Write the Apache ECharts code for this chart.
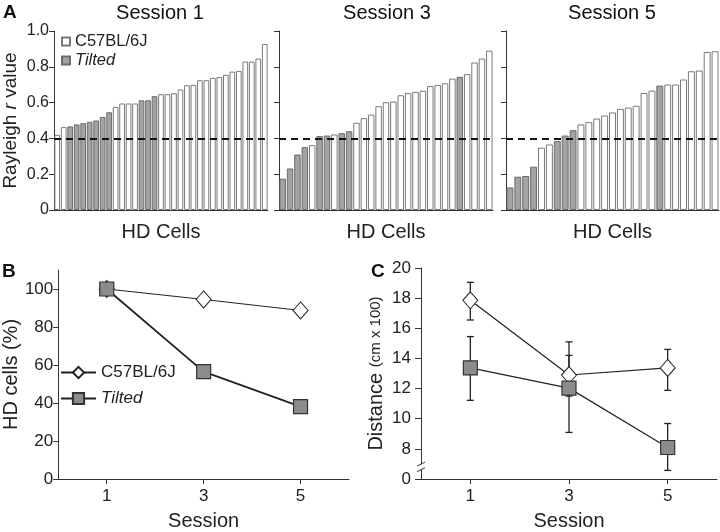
<!DOCTYPE html>
<html><head><meta charset="utf-8">
<script src="https://cdn.jsdelivr.net/npm/echarts@6/dist/echarts.min.js"></script>
<style>html,body{margin:0;padding:0;background:#fff}#c{width:720px;height:532px}</style>
</head><body><div id="c"></div>
<script>
// ---------- DATA ----------
const threshold = 0.4;
// Session 1 Rayleigh r (sorted) and group flag (1 = Tilted, 0 = C57BL/6J)
const s1Values = [0.42,0.463,0.467,0.478,0.485,0.493,0.50,0.52,0.546,0.576,0.595,0.595,0.595,0.613,0.613,0.636,0.647,0.647,0.652,0.673,0.697,0.699,0.725,0.725,0.738,0.743,0.755,0.773,0.777,0.829,0.829,0.846,0.927];
const s1Tilted = [0,0,1,1,1,1,1,1,1,0,0,0,0,1,1,1,0,0,0,0,0,0,0,0,0,0,0,0,0,0,0,0,0];
const s3Values = [0.175,0.232,0.31,0.351,0.362,0.413,0.416,0.422,0.429,0.44,0.487,0.513,0.533,0.58,0.602,0.606,0.641,0.654,0.66,0.666,0.693,0.699,0.708,0.734,0.744,0.759,0.824,0.846,0.89];
const s3Tilted = [1,1,1,1,0,1,1,0,1,1,0,0,0,0,0,0,0,0,0,0,0,0,0,0,1,0,0,0,0];
const s5Values = [0.126,0.186,0.19,0.242,0.348,0.366,0.385,0.416,0.446,0.478,0.491,0.511,0.528,0.545,0.565,0.572,0.582,0.654,0.667,0.695,0.701,0.701,0.729,0.775,0.779,0.883,0.887];
const s5Tilted = [1,1,1,1,0,0,1,1,1,0,0,0,0,0,0,0,0,0,0,1,0,0,0,0,0,0,0];

const sessions = [1,3,5];
const pctC57 = [100, 94.5, 88.7];
const pctTilted = [100, 56.5, 38.1];
const distC57 = [17.86, 12.9, 13.37];
const distC57Hi = [19.05, 14.2, 14.6];
const distC57Lo = [16.55, 11.5, 11.88];
const distTilted = [13.37, 12.03, 8.09];
const distTiltedHi = [15.45, 15.1, 9.68];
const distTiltedLo = [11.22, 9.09, 6.57];

const rTicks = [0,0.2,0.4,0.6,0.8,1.0];
const pctTicks = [0,20,40,60,80,100];
const distTickLabels = [0,8,10,12,14,16,18,20];
const sessionTicks = [1,3,5];
const distOffset = 6; // broken axis: values >= 8 shifted down by 6

// ---------- CHART ----------
const FONT = 'Liberation Sans, Arial, Helvetica, sans-serif';
const TXT = '#222';
const AX = '#333';
const chart = echarts.init(document.getElementById('c'), null, {renderer:'canvas'});
const tr = v => v - distOffset;
const distTickPos = distTickLabels.map(v => v === 0 ? 0 : tr(v));

const C57 = 'C57BL/6J', TIL = 'Tilted';
const whiteBar = {color:'#ffffff', borderColor:'#7a7a7a', borderWidth:1};
const grayBar = {color:'#a3a3a3', borderColor:'#6c6c6c', borderWidth:1};

const panels = [
  {vals:s1Values, flags:s1Tilted, grid:{left:54, top:31, width:214, height:179}, labels:true},
  {vals:s3Values, flags:s3Tilted, grid:{left:279, top:31, width:214, height:179}, labels:false},
  {vals:s5Values, flags:s5Tilted, grid:{left:506, top:31, width:213, height:179}, labels:false}
];

const grids = panels.map(p => p.grid).concat([
  {left:53, top:270, width:296, height:211},
  {left:421, top:268, width:296, height:213}
]);

const xAxes = [], yAxes = [], series = [];
panels.forEach((p, i) => {
  xAxes.push({type:'category', gridIndex:i, data:p.vals.map((v,k)=>String(k+1)), boundaryGap:true,
    axisTick:{show:false}, axisLabel:{show:false},
    axisLine:{lineStyle:{color:AX, width:1}},
    name:'HD Cells', nameLocation:'middle', nameGap:12,
    nameTextStyle:{fontFamily:FONT, fontSize:20, color:TXT}});
  yAxes.push({type:'value', gridIndex:i, min:0, max:1, interval:0.2, splitLine:{show:false},
    axisLine:{show:true, lineStyle:{color:AX, width:1}},
    axisTick:{show:true, length:5, lineStyle:{color:AX}},
    axisLabel:{show:p.labels, margin:5, fontFamily:FONT, fontSize:16, color:TXT,
      formatter:v => v === 0 ? '0' : v.toFixed(1)},
    name: p.labels ? 'Rayleigh {i|r} value' : '', nameLocation:'middle', nameRotate:90, nameGap:34,
    nameTextStyle:{fontFamily:FONT, fontSize:19, color:TXT, rich:{i:{fontFamily:FONT, fontSize:19, fontStyle:'italic', color:TXT}}}});
  series.push({type:'bar', name:C57, xAxisIndex:i, yAxisIndex:i, barGap:'-100%', barCategoryGap:'12%',
    data:p.vals.map((v,k)=>p.flags[k] ? '-' : v), itemStyle:whiteBar, animation:false,
    markLine:{silent:true, symbol:['none','none'], label:{show:false}, animation:false,
      lineStyle:{color:'#111', width:2, type:[7,5]}, data:[{yAxis:threshold}]}});
  series.push({type:'bar', name:TIL, xAxisIndex:i, yAxisIndex:i, barGap:'-100%', barCategoryGap:'12%',
    data:p.vals.map((v,k)=>p.flags[k] ? v : '-'), itemStyle:grayBar, animation:false});
});

// Panel B
xAxes.push({type:'value', gridIndex:3, min:0, max:6, splitLine:{show:false},
  axisLine:{lineStyle:{color:AX}}, axisTick:{length:5, lineStyle:{color:AX}, customValues:sessionTicks},
  axisLabel:{customValues:sessionTicks, margin:9, fontFamily:FONT, fontSize:17, color:TXT},
  name:'Session', nameLocation:'middle', nameGap:32, nameTextStyle:{fontFamily:FONT, fontSize:20, color:TXT}});
yAxes.push({type:'value', gridIndex:3, min:0, max:110, splitLine:{show:false},
  axisLine:{show:true, lineStyle:{color:AX}}, axisTick:{show:true, length:5, lineStyle:{color:AX}, customValues:pctTicks},
  axisLabel:{customValues:pctTicks, margin:5, fontFamily:FONT, fontSize:17, color:TXT},
  name:'HD cells (%)', nameLocation:'middle', nameRotate:90, nameGap:34,
  nameTextStyle:{fontFamily:FONT, fontSize:20, color:TXT}});
// Panel C
xAxes.push({type:'value', gridIndex:4, min:0, max:6, splitLine:{show:false},
  axisLine:{lineStyle:{color:AX}}, axisTick:{length:5, lineStyle:{color:AX}, customValues:sessionTicks},
  axisLabel:{customValues:sessionTicks, margin:9, fontFamily:FONT, fontSize:17, color:TXT},
  name:'Session', nameLocation:'middle', nameGap:32, nameTextStyle:{fontFamily:FONT, fontSize:20, color:TXT}});
yAxes.push({type:'value', gridIndex:4, min:0, max:tr(20), splitLine:{show:false},
  axisLine:{show:true, lineStyle:{color:AX}}, axisTick:{show:true, length:6, lineStyle:{color:AX}, customValues:distTickPos},
  axisLabel:{customValues:distTickPos, margin:10, fontFamily:FONT, fontSize:17, color:TXT,
    formatter:v => v === 0 ? '0' : String(Math.round(v + distOffset))},
  name:'{a|Distance} {b|(cm x 100)}', nameLocation:'middle', nameRotate:90, nameGap:35,
  nameTextStyle:{fontFamily:FONT, fontSize:20, color:TXT,
    rich:{a:{fontFamily:FONT, fontSize:20, color:TXT}, b:{fontFamily:FONT, fontSize:15, color:TXT}}}});

const c57Line = {color:'#222', width:1};
const tilLine = {color:'#222', width:1.8};
const diamondStyle = {color:'#ffffff', borderColor:'#222', borderWidth:1};
const squareStyle = {color:'#8c8c8c', borderColor:'#333', borderWidth:1.2};

series.push({type:'line', name:C57+' ', xAxisIndex:3, yAxisIndex:3, data:sessions.map((s,i)=>[s,pctC57[i]]),
  symbol:'diamond', symbolSize:[15,17], lineStyle:c57Line, itemStyle:diamondStyle, animation:false, z:3});
series.push({type:'line', name:TIL+' ', xAxisIndex:3, yAxisIndex:3, data:sessions.map((s,i)=>[s,pctTilted[i]]),
  symbol:'rect', symbolSize:14, lineStyle:tilLine, itemStyle:squareStyle, animation:false, z:4});

function errRender(params, api){
  const x = api.value(0);
  const pLo = api.coord([x, api.value(1)]);
  const pHi = api.coord([x, api.value(2)]);
  const w = 3.5, st = {stroke:'#222', lineWidth:1.3};
  return {type:'group', children:[
    {type:'line', shape:{x1:pLo[0], y1:pLo[1], x2:pHi[0], y2:pHi[1]}, style:st},
    {type:'line', shape:{x1:pLo[0]-w, y1:pLo[1], x2:pLo[0]+w, y2:pLo[1]}, style:st},
    {type:'line', shape:{x1:pHi[0]-w, y1:pHi[1], x2:pHi[0]+w, y2:pHi[1]}, style:st}
  ]};
}
series.push({type:'custom', xAxisIndex:4, yAxisIndex:4, renderItem:errRender, z:1, animation:false, silent:true,
  encode:{x:0, y:[1,2]}, data:sessions.map((s,i)=>[s, tr(distC57Lo[i]), tr(distC57Hi[i])])});
series.push({type:'custom', xAxisIndex:4, yAxisIndex:4, renderItem:errRender, z:1, animation:false, silent:true,
  encode:{x:0, y:[1,2]}, data:sessions.map((s,i)=>[s, tr(distTiltedLo[i]), tr(distTiltedHi[i])])});
series.push({type:'line', name:C57+' ', xAxisIndex:4, yAxisIndex:4, data:sessions.map((s,i)=>[s,tr(distC57[i])]),
  symbol:'diamond', symbolSize:[15,17], lineStyle:{color:'#222', width:1.2}, itemStyle:diamondStyle, animation:false, z:3});
series.push({type:'line', name:TIL+' ', xAxisIndex:4, yAxisIndex:4, data:sessions.map((s,i)=>[s,tr(distTilted[i])]),
  symbol:'rect', symbolSize:14, lineStyle:{color:'#222', width:1.2}, itemStyle:squareStyle, animation:false, z:4});

const legendText = {fontFamily:FONT, fontSize:16.5, color:TXT, rich:{it:{fontFamily:FONT, fontSize:16.5, fontStyle:'italic', color:TXT}}};
const legends = [
  {data:[C57, TIL], orient:'vertical', left:61, top:33, padding:0, itemWidth:8, itemHeight:8, itemGap:2, icon:'rect',
    selectedMode:false, textStyle:legendText, formatter:n => n === TIL ? '{it|' + n + '}' : n},
  {data:[C57+' ', TIL+' '], orient:'vertical', left:60, top:364, padding:0, itemWidth:35, itemHeight:14, itemGap:9,
    selectedMode:false, textStyle:Object.assign({}, legendText, {fontSize:17, rich:{it:{fontFamily:FONT, fontSize:17, fontStyle:'italic', color:TXT}}}),
    formatter:n => n.trim() === TIL ? '{it|' + n.trim() + '}' : n.trim()}
];

const titleTxt = (id, t, x, y, bold, size) => ({id, type:'text', x, y,
  style:{text:t, textAlign: bold ? 'left' : 'center', textVerticalAlign:'middle', fill:'#111',
    font:(bold ? 'bold ' : '') + size + 'px ' + FONT}});
const graphics = [
  titleTxt('gA','A',3,13,true,19),
  titleTxt('gB','B',2,272,true,19),
  titleTxt('gC','C',371,272,true,19),
  titleTxt('t1','Session 1',160,13,false,20),
  titleTxt('t3','Session 3',387,13,false,20),
  titleTxt('t5','Session 5',612,13,false,20)
];

chart.setOption({
  backgroundColor:'#ffffff',
  animation:false,
  grid:grids, xAxis:xAxes, yAxis:yAxes, series:series, legend:legends, graphic:graphics
});

// axis break marks on panel C's y axis
const pA = chart.convertToPixel({xAxisIndex:4, yAxisIndex:4}, [0, 0.99]);
const pB = chart.convertToPixel({xAxisIndex:4, yAxisIndex:4}, [0, 0.62]);
const bx = pA[0];
chart.setOption({graphic:[
  {id:'brk0', type:'rect', shape:{x:bx-3, y:pA[1], width:6, height:pB[1]-pA[1]}, style:{fill:'#fff'}, z:100},
  {id:'brk1', type:'line', shape:{x1:bx-4, y1:pA[1]+2, x2:bx+4, y2:pA[1]-2}, style:{stroke:AX, lineWidth:1}, z:101},
  {id:'brk2', type:'line', shape:{x1:bx-4, y1:pB[1]+2, x2:bx+4, y2:pB[1]-2}, style:{stroke:AX, lineWidth:1}, z:101}
]});
</script></body></html>
